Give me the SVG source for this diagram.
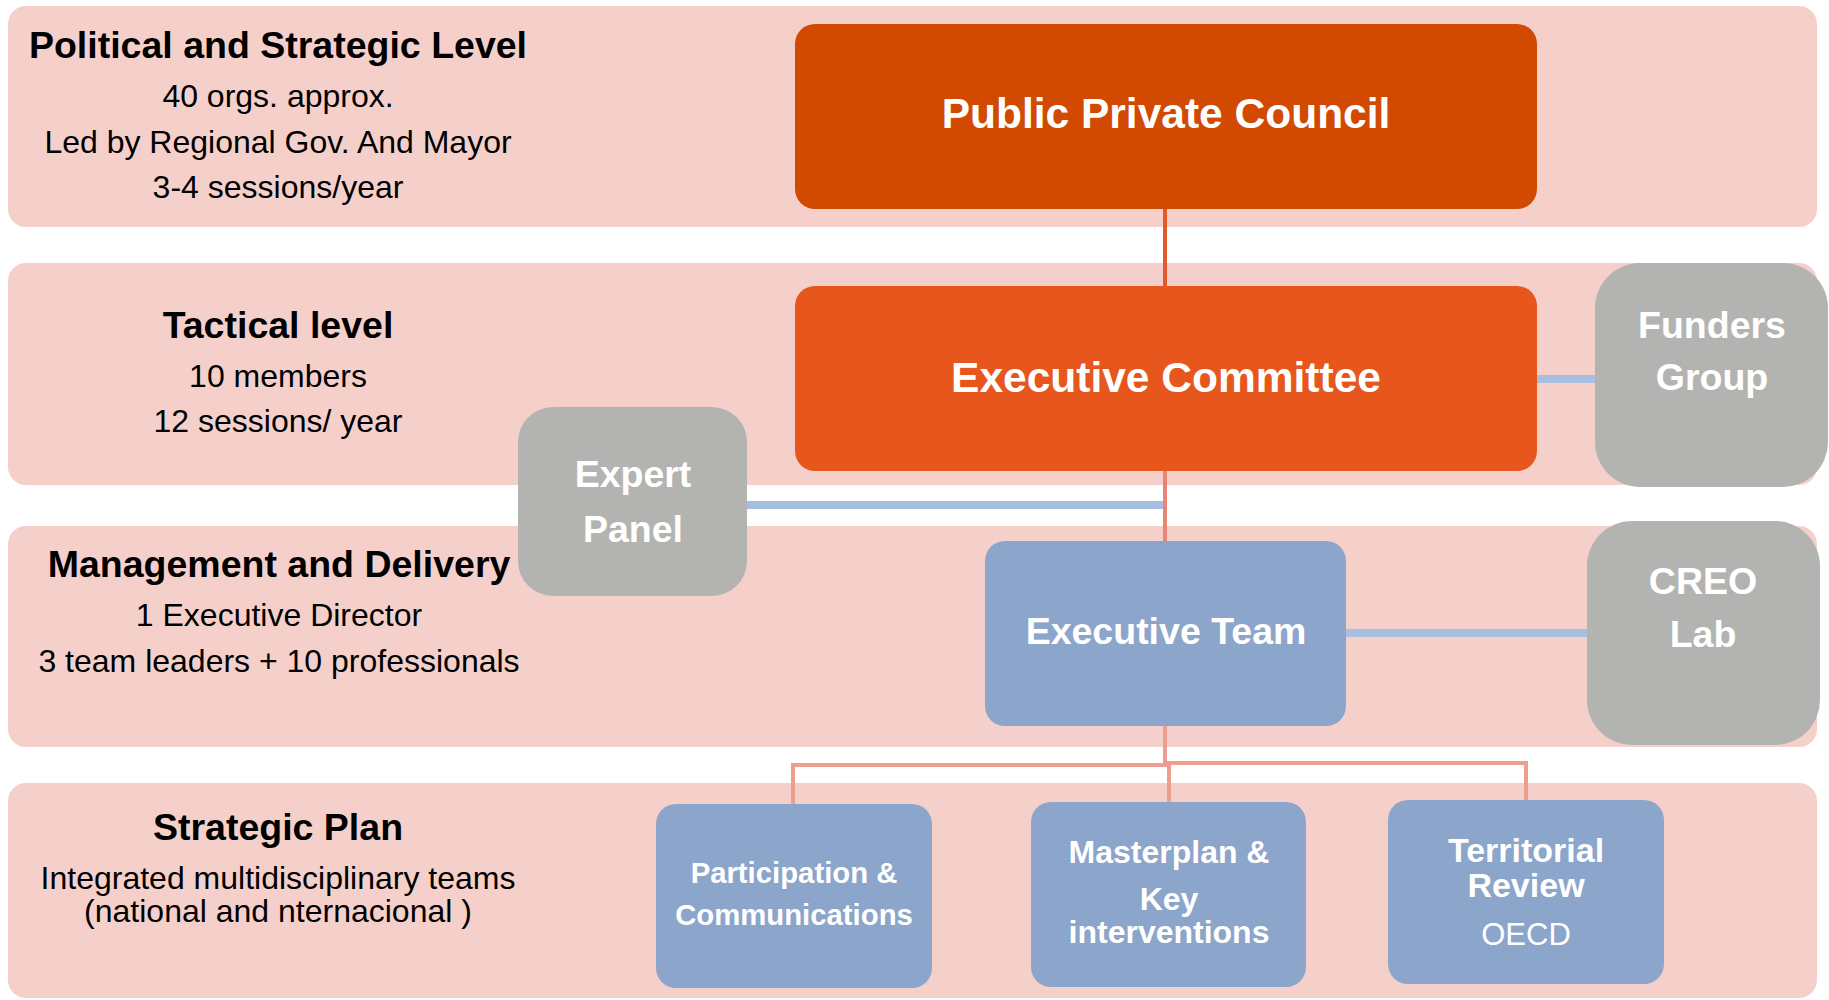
<svg xmlns="http://www.w3.org/2000/svg" width="1829" height="1000" viewBox="0 0 1829 1000">
<defs>
<style>
.band{fill:#F5D0CB}
.lbl{font-family:"Liberation Sans",Arial,sans-serif;fill:#000;text-anchor:middle}
.ttl{font-weight:bold;font-size:37.5px}
.sub{font-size:32px}
.nt{font-family:"Liberation Sans",Arial,sans-serif;fill:#fff;font-weight:bold;text-anchor:middle}
.reg{font-weight:normal}
.orange1{fill:#D24A02}
.orange2{fill:#E6561D}
.blue{fill:#8CA5CA}
.gray{fill:#B3B4B1}
.lnk{fill:none;stroke-linecap:butt}
</style>
</defs>
<g id="bands">
<rect class="band" x="8" y="6" width="1809" height="221" rx="18"/>
<rect class="band" x="8" y="263" width="1809" height="222" rx="18"/>
<rect class="band" x="8" y="526" width="1809" height="221" rx="18"/>
<rect class="band" x="8" y="783" width="1809" height="215" rx="18"/>
</g>
<g id="level-labels">
<text class="lbl ttl" x="278" y="58">Political and Strategic Level</text>
<text class="lbl sub" x="278" y="107">40 orgs. approx.</text>
<text class="lbl sub" x="278" y="153">Led by Regional Gov. And Mayor</text>
<text class="lbl sub" x="278" y="198">3-4 sessions/year</text>
<text class="lbl ttl" x="278" y="338">Tactical level</text>
<text class="lbl sub" x="278" y="387">10 members</text>
<text class="lbl sub" x="278" y="432">12 sessions/ year</text>
<text class="lbl ttl" x="279" y="577">Management and Delivery</text>
<text class="lbl sub" x="279" y="626">1 Executive Director</text>
<text class="lbl sub" x="279" y="672">3 team leaders + 10 professionals</text>
<text class="lbl ttl" x="278" y="840">Strategic Plan</text>
<text class="lbl sub" x="278" y="889">Integrated multidisciplinary teams</text>
<text class="lbl sub" x="278" y="922">(national and nternacional )</text>
</g>
<g id="connectors">
<line class="lnk" x1="1165" y1="209" x2="1165" y2="286" stroke="#E2592B" stroke-width="4"/>
<line class="lnk" x1="1165" y1="471" x2="1165" y2="541" stroke="#EA8474" stroke-width="4"/>
<line class="lnk" x1="747" y1="505" x2="1163" y2="505" stroke="#A7BFDF" stroke-width="8"/>
<line class="lnk" x1="1537" y1="379" x2="1596" y2="379" stroke="#A7BFDF" stroke-width="8"/>
<line class="lnk" x1="1346" y1="633" x2="1590" y2="633" stroke="#A7BFDF" stroke-width="8"/>
<path class="lnk" d="M1165 726 V765 M793 804 V765 H1167 M1169 802 V763 M1163 763 H1526 V800" stroke="#EE9E90" stroke-width="4"/>
</g>
<g id="ppc">
<rect class="orange1" x="795" y="24" width="742" height="185" rx="20"/>
<text class="nt" x="1166" y="128" font-size="42.5">Public Private Council</text>
</g>
<g id="exec-committee">
<rect class="orange2" x="795" y="286" width="742" height="185" rx="20"/>
<text class="nt" x="1166" y="392" font-size="42.5">Executive Committee</text>
</g>
<g id="funders">
<rect class="gray" x="1595" y="263" width="233" height="224" rx="45"/>
<text class="nt" x="1712" y="338" font-size="37.5">Funders</text>
<text class="nt" x="1712" y="390" font-size="37.5">Group</text>
</g>
<g id="expert-panel">
<rect class="gray" x="518" y="407" width="229" height="189" rx="35"/>
<text class="nt" x="633" y="487" font-size="37.5">Expert</text>
<text class="nt" x="633" y="542" font-size="37.5">Panel</text>
</g>
<g id="exec-team">
<rect class="blue" x="985" y="541" width="361" height="185" rx="20"/>
<text class="nt" x="1166" y="644" font-size="37.5">Executive Team</text>
</g>
<g id="creo-lab">
<rect class="gray" x="1587" y="521" width="233" height="224" rx="45"/>
<text class="nt" x="1703" y="594" font-size="37.5">CREO</text>
<text class="nt" x="1703" y="647" font-size="37.5">Lab</text>
</g>
<g id="participation">
<rect class="blue" x="656" y="804" width="276" height="184" rx="20"/>
<text class="nt" x="794" y="883" font-size="29.3">Participation &amp;</text>
<text class="nt" x="794" y="925" font-size="29.3">Communications</text>
</g>
<g id="masterplan">
<rect class="blue" x="1031" y="802" width="275" height="185" rx="20"/>
<text class="nt" x="1169" y="863" font-size="32">Masterplan &amp;</text>
<text class="nt" x="1169" y="910" font-size="32">Key</text>
<text class="nt" x="1169" y="943" font-size="32">interventions</text>
</g>
<g id="territorial">
<rect class="blue" x="1388" y="800" width="276" height="184" rx="20"/>
<text class="nt" x="1526" y="862" font-size="34">Territorial</text>
<text class="nt" x="1526" y="897" font-size="34">Review</text>
<text class="nt reg" x="1526" y="945" font-size="31">OECD</text>
</g>
</svg>
